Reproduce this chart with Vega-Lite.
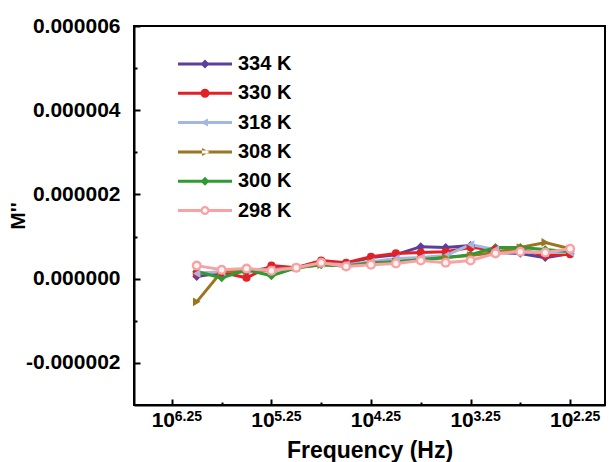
{
  "$schema": "https://vega.github.io/schema/vega-lite/v6.json",
  "width": 471,
  "height": 379,
  "autosize": "none",
  "padding": {"left": 134, "top": 26, "right": 6, "bottom": 57},
  "background": "white",
  "config": {
    "view": {"stroke": "black", "strokeWidth": 2},
    "font": "Liberation Sans",
    "axis": {"labelFont": "Liberation Sans", "titleFont": "Liberation Sans", "labelFontWeight": "bold", "titleFontWeight": "bold", "labelColor": "black", "titleColor": "black", "grid": false, "domainColor": "black", "domainWidth": 2, "tickColor": "black", "tickWidth": 2},
    "legend": {"orient": "none", "legendX": 61, "legendY": 28, "title": null, "padding": 0, "symbolSize": 100, "symbolStrokeWidth": 0, "symbolOpacity": 1, "labelFontSize": 20, "labelFontWeight": "bold", "labelFont": "Liberation Sans", "labelColor": "black", "labelOffset": 23, "rowPadding": 9.3, "labelLimit": 200}
  },
  "data": {"values": [
    {"s":"334 K","f":6.0,"m":0.00000005},{"s":"334 K","f":5.75,"m":0.00000014},{"s":"334 K","f":5.5,"m":0.00000017},{"s":"334 K","f":5.25,"m":0.00000026},{"s":"334 K","f":5.0,"m":0.00000026},{"s":"334 K","f":4.75,"m":0.0000004},{"s":"334 K","f":4.5,"m":0.00000036},{"s":"334 K","f":4.25,"m":0.0000005},{"s":"334 K","f":4.0,"m":0.00000057},{"s":"334 K","f":3.75,"m":0.00000076},{"s":"334 K","f":3.5,"m":0.00000074},{"s":"334 K","f":3.25,"m":0.00000079},{"s":"334 K","f":3.0,"m":0.00000062},{"s":"334 K","f":2.75,"m":0.0000006},{"s":"334 K","f":2.5,"m":0.0000005},{"s":"334 K","f":2.25,"m":0.0000006},
    {"s":"330 K","f":6.0,"m":0.00000012},{"s":"330 K","f":5.75,"m":0.00000015},{"s":"330 K","f":5.5,"m":0.00000002},{"s":"330 K","f":5.25,"m":0.00000031},{"s":"330 K","f":5.0,"m":0.00000026},{"s":"330 K","f":4.75,"m":0.00000043},{"s":"330 K","f":4.5,"m":0.00000038},{"s":"330 K","f":4.25,"m":0.00000052},{"s":"330 K","f":4.0,"m":0.0000006},{"s":"330 K","f":3.75,"m":0.00000062},{"s":"330 K","f":3.5,"m":0.00000064},{"s":"330 K","f":3.25,"m":0.00000074},{"s":"330 K","f":3.0,"m":0.0000007},{"s":"330 K","f":2.75,"m":0.00000069},{"s":"330 K","f":2.5,"m":0.00000055},{"s":"330 K","f":2.25,"m":0.00000058},
    {"s":"318 K","f":6.0,"m":0.00000012},{"s":"318 K","f":5.75,"m":0.00000017},{"s":"318 K","f":5.5,"m":0.00000021},{"s":"318 K","f":5.25,"m":0.00000021},{"s":"318 K","f":5.0,"m":0.00000026},{"s":"318 K","f":4.75,"m":0.00000036},{"s":"318 K","f":4.5,"m":0.00000033},{"s":"318 K","f":4.25,"m":0.0000004},{"s":"318 K","f":4.0,"m":0.00000048},{"s":"318 K","f":3.75,"m":0.0000005},{"s":"318 K","f":3.5,"m":0.00000055},{"s":"318 K","f":3.25,"m":0.00000081},{"s":"318 K","f":3.0,"m":0.00000069},{"s":"318 K","f":2.75,"m":0.00000064},{"s":"318 K","f":2.5,"m":0.00000062},{"s":"318 K","f":2.25,"m":0.00000062},
    {"s":"308 K","f":6.0,"m":-0.00000055},{"s":"308 K","f":5.75,"m":0.00000017},{"s":"308 K","f":5.5,"m":0.00000019},{"s":"308 K","f":5.25,"m":0.00000019},{"s":"308 K","f":5.0,"m":0.00000026},{"s":"308 K","f":4.75,"m":0.00000033},{"s":"308 K","f":4.5,"m":0.0000003},{"s":"308 K","f":4.25,"m":0.00000038},{"s":"308 K","f":4.0,"m":0.0000004},{"s":"308 K","f":3.75,"m":0.00000045},{"s":"308 K","f":3.5,"m":0.0000005},{"s":"308 K","f":3.25,"m":0.00000055},{"s":"308 K","f":3.0,"m":0.00000062},{"s":"308 K","f":2.75,"m":0.00000074},{"s":"308 K","f":2.5,"m":0.00000086},{"s":"308 K","f":2.25,"m":0.00000071},
    {"s":"300 K","f":6.0,"m":0.00000017},{"s":"300 K","f":5.75,"m":0.00000002},{"s":"300 K","f":5.5,"m":0.00000021},{"s":"300 K","f":5.25,"m":0.00000007},{"s":"300 K","f":5.0,"m":0.00000026},{"s":"300 K","f":4.75,"m":0.00000033},{"s":"300 K","f":4.5,"m":0.0000003},{"s":"300 K","f":4.25,"m":0.00000036},{"s":"300 K","f":4.0,"m":0.0000004},{"s":"300 K","f":3.75,"m":0.00000045},{"s":"300 K","f":3.5,"m":0.0000005},{"s":"300 K","f":3.25,"m":0.00000057},{"s":"300 K","f":3.0,"m":0.00000074},{"s":"300 K","f":2.75,"m":0.00000074},{"s":"300 K","f":2.5,"m":0.00000069},{"s":"300 K","f":2.25,"m":0.00000064},
    {"s":"298 K","f":6.0,"m":0.00000031},{"s":"298 K","f":5.75,"m":0.00000021},{"s":"298 K","f":5.5,"m":0.00000024},{"s":"298 K","f":5.25,"m":0.00000019},{"s":"298 K","f":5.0,"m":0.00000026},{"s":"298 K","f":4.75,"m":0.00000038},{"s":"298 K","f":4.5,"m":0.00000029},{"s":"298 K","f":4.25,"m":0.00000033},{"s":"298 K","f":4.0,"m":0.00000036},{"s":"298 K","f":3.75,"m":0.00000043},{"s":"298 K","f":3.5,"m":0.00000038},{"s":"298 K","f":3.25,"m":0.00000043},{"s":"298 K","f":3.0,"m":0.0000006},{"s":"298 K","f":2.75,"m":0.00000064},{"s":"298 K","f":2.5,"m":0.00000062},{"s":"298 K","f":2.25,"m":0.00000071}
  ]},
  "resolve": {"axis": {"x": "independent"}},
  "encoding": {
    "x": {"field": "f", "type": "quantitative", "scale": {"domain": [1.9, 6.63], "reverse": true, "nice": false, "zero": false}, "axis": null},
    "y": {"field": "m", "type": "quantitative", "scale": {"domain": [-0.000003, 0.000006], "nice": false, "zero": false},
      "axis": {"orient": "left", "values": [-0.000002, -0.000001, 0, 0.000001, 0.000002, 0.000003, 0.000004, 0.000005, 0.000006], "format": ".6f",
        "labelExpr": "round(datum.value * 1000000) % 2 == 0 ? replace(datum.label, '\u2212', '-') : ''", "labelOverlap": false, "labelFontSize": 21, "labelPadding": 20,
        "tickSize": {"condition": {"test": "round(datum.value * 1000000) % 2 == 0", "value": -6}, "value": -3},
        "title": "M''", "titleFontSize": 21, "titlePadding": -3}},
    "color": {"field": "s", "type": "nominal", "sort": ["334 K", "330 K", "318 K", "308 K", "300 K", "298 K"],
      "scale": {"domain": ["334 K", "330 K", "318 K", "308 K", "300 K", "298 K"], "range": ["#5b3f9c", "#e41f26", "#a3b8e0", "#9c7520", "#2e9a31", "#f7a3a3"]},
      "legend": {"orient": "none", "legendX": 61, "legendY": 28, "title": null}}
  },
  "layer": [
    {
      "mark": {"type": "line", "strokeWidth": 3},
      "encoding": {
        "x": {"field": "f", "type": "quantitative",
          "axis": {"orient": "bottom", "values": [6.25, 5.75, 5.25, 4.75, 4.25, 3.75, 3.25, 2.75, 2.25], "labelExpr": "(datum.value * 4) % 4 == 1 ? '10' : ''", "labelFontSize": 21, "labelOffset": -9, "labelBaseline": "alphabetic", "labelPadding": 27, "labelOverlap": false,
            "tickSize": {"condition": {"test": "(datum.value * 4) % 4 == 1", "value": -6}, "value": -3},
            "title": "Frequency (Hz)", "titleFontSize": 23, "titlePadding": 6}},
        "order": {"field": "f", "type": "quantitative", "sort": "descending"}
      }
    },
    {
      "mark": {"type": "point", "shape": "diamond", "filled": true, "size": 80, "opacity": 1},
      "transform": [{"filter": "datum.s === '334 K' || datum.s === '300 K'"}],
      "encoding": {
        "x": {"field": "f", "type": "quantitative",
          "axis": {"orient": "bottom", "values": [6.25, 5.25, 4.25, 3.25, 2.25], "format": ".2f", "labelFontSize": 14, "labelOffset": 16, "labelBaseline": "alphabetic", "labelPadding": 15, "labelOverlap": false, "labelFlush": false, "ticks": false, "domain": false, "title": null}}
      }
    },
    {
      "mark": {"type": "point", "shape": "circle", "filled": true, "size": 65, "opacity": 1},
      "transform": [{"filter": "datum.s === '330 K'"}]
    },
    {
      "mark": {"type": "point", "shape": "triangle-left", "filled": true, "size": 75, "opacity": 1},
      "transform": [{"filter": "datum.s === '318 K'"}]
    },
    {
      "mark": {"type": "point", "shape": "triangle-right", "filled": true, "size": 75, "opacity": 1},
      "transform": [{"filter": "datum.s === '308 K'"}]
    },
    {
      "mark": {"type": "point", "shape": "circle", "filled": true, "size": 100, "opacity": 1},
      "transform": [{"filter": "datum.s === '298 K'"}]
    },
    {
      "mark": {"type": "point", "shape": "circle", "size": 28, "filled": true, "opacity": 1},
      "transform": [{"filter": "datum.s === '298 K'"}],
      "encoding": {"color": {"value": "#fff2f2"}}
    },
    {
      "mark": {"type": "point", "filled": true, "opacity": 1},
      "transform": [{"filter": "datum.f > 100"}],
      "encoding": {
        "shape": {"field": "s", "type": "nominal",
          "scale": {"domain": ["334 K", "330 K", "318 K", "308 K", "300 K", "298 K"],
            "range": [
              "M-5.4,-0.3H5.4V0.3H-5.4Z M0,-0.9L0.9,0L0,0.9L-0.9,0Z",
              "M-5.4,-0.3H5.4V0.3H-5.4Z M-0.9,0A0.9,0.9 0 1,1 0.9,0A0.9,0.9 0 1,1 -0.9,0Z",
              "M-5.4,-0.3H5.4V0.3H-5.4Z M-0.9,0L0.6,-0.8L0.6,0.8Z",
              "M-5.4,-0.3H5.4V0.3H-5.4Z M0.9,0L-0.6,-0.8L-0.6,0.8Z",
              "M-5.4,-0.3H5.4V0.3H-5.4Z M0,-0.9L0.9,0L0,0.9L-0.9,0Z",
              "M-5.4,-0.3H-0.85V0.3H-5.4Z M0.85,-0.3H5.4V0.3H0.85Z M-0.9,0A0.9,0.9 0 1,1 0.9,0A0.9,0.9 0 1,1 -0.9,0Z M-0.45,0A0.45,0.45 0 1,0 0.45,0A0.45,0.45 0 1,0 -0.45,0Z"
            ]},
          "legend": {"orient": "none", "legendX": 61, "legendY": 28, "title": null}}
      }
    }
  ]
}
